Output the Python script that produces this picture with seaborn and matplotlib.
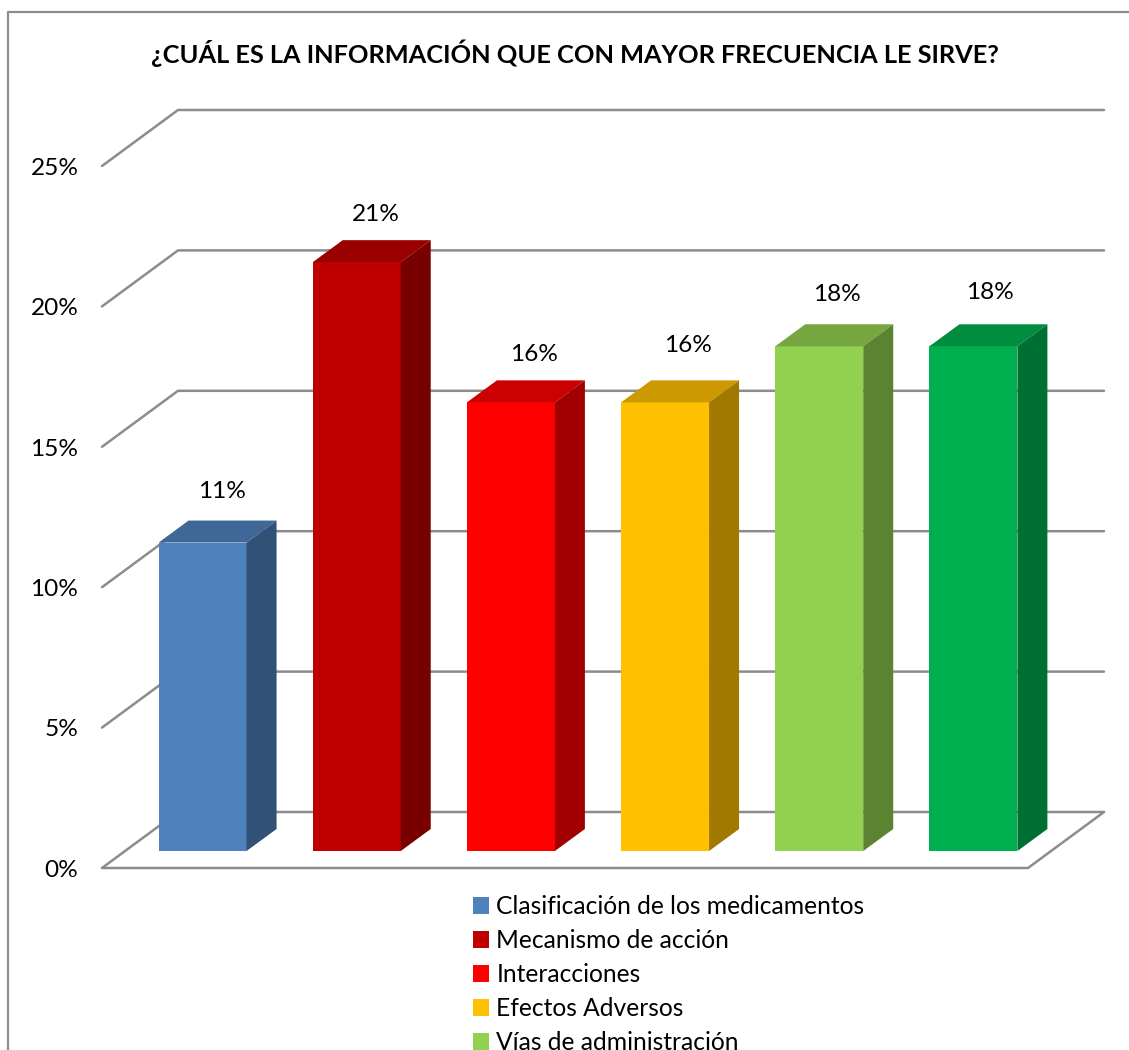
import matplotlib
matplotlib.use("Agg")
import matplotlib.pyplot as plt
from matplotlib.colors import to_rgb
from matplotlib.patches import Patch, Polygon
from matplotlib.lines import Line2D
from matplotlib.transforms import ScaledTranslation
import seaborn as sns

title = "¿CUÁL ES LA INFORMACIÓN QUE CON MAYOR FRECUENCIA LE SIRVE?"
bars = ["Clasificación de los medicamentos", "Mecanismo de acción", "Interacciones",
        "Efectos Adversos", "Vías de administración", "Sexta categoría"]
values = [11, 21, 16, 16, 18, 18]
colors = ["#4F81BD", "#C00000", "#FF0000", "#FFC000", "#92D050", "#00B050"]
yticks = [0, 5, 10, 15, 20, 25]
legend_labels = bars[:5]
# hand-placed label nudges of the source chart (px right, px above bar top)
nudge_x = [19, 19, 23, 23, 18, 17]
nudge_y = [51, 48, 48, 57, 52, 54]

W, H = 1129, 1050
sns.set_theme(style="white")
plt.rcParams["font.family"] = ["Lato", "DejaVu Sans"]
GRAY = "#8C8C8C"
FS = 17.6


def box(l, t, r, b):
    return [l / W, 1 - b / H, (r - l) / W, (b - t) / H]


fig = plt.figure(figsize=(W / 100, H / 100), dpi=100, facecolor="white")

# chart-area border (only left and top survive the crop)
fig.add_artist(Line2D([7.5 / W, 7.5 / W, 1], [0, 1 - 11.5 / H, 1 - 11.5 / H],
                      color=GRAY, lw=1.6, transform=fig.transFigure))

# wall plane: front edge scale, grid lines run back and along the wall
wall = fig.add_axes(box(102, 166, 1028, 868), zorder=1)
wall.set_xlim(0, 6)
wall.set_ylim(0, 25)
for s in wall.spines.values():
    s.set_visible(False)
wall.set_xticks([])
wall.set_yticks(yticks, [f"{t}%" for t in yticks], fontsize=FS, color="black")
wall.tick_params(axis="y", length=0, pad=17)
shift = ScaledTranslation(0, -1.6 / 72, fig.dpi_scale_trans)
for lbl in wall.get_yticklabels():
    lbl.set_verticalalignment("center")
    lbl.set_transform(lbl.get_transform() + shift)
dx = 76 / (926 / 6)
dy = 56 / (702 / 25)
for t in yticks:
    wall.plot([0, dx, 6 + dx], [t, t + dy, t + dy], color=GRAY, lw=1.8,
              clip_on=False, solid_joinstyle="miter")
wall.plot([0, 6, 6 + dx], [0, 0, dy], color=GRAY, lw=1.8, clip_on=False,
          solid_joinstyle="miter")

# bar plane
ax = fig.add_axes(box(125.5, 150, 1050.5, 851), zorder=2)
ax.patch.set_alpha(0)
sns.barplot(x=bars, y=values, hue=bars, palette=colors, saturation=1, width=88 / 154.2,
            legend=False, ax=ax, linewidth=0)
ax.set_xlim(-0.5, 5.5)
ax.set_ylim(0, 25)
ax.axis("off")

ddx = 30 / 154.2
ddy = 22 / 28.04
hw = 44 / 154.2
for i, (v, c) in enumerate(zip(values, colors)):
    rgb = to_rgb(c)
    top = tuple(k * 0.8 for k in rgb)
    side = tuple(k * 0.63 for k in rgb)
    l, r = i - hw, i + hw
    ax.add_patch(Polygon([(l, v), (r, v), (r + ddx, v + ddy), (l + ddx, v + ddy)],
                         closed=True, fc=top, ec="none", clip_on=False))
    ax.add_patch(Polygon([(r, 0), (r + ddx, ddy), (r + ddx, v + ddy), (r, v)],
                         closed=True, fc=side, ec="none", clip_on=False))
    ax.annotate(f"{v}%", (i, v), xytext=(nudge_x[i] * 0.72, nudge_y[i] * 0.72),
                textcoords="offset points", ha="center", va="center",
                fontsize=FS, color="black", annotation_clip=False)

fig.text(575 / W, 1 - 53.5 / H, title, ha="center", va="center", fontsize=18.27,
         fontweight="bold", color="black")

handles = [Patch(fc=c, ec="none") for c in colors[:5]]
fig.legend(handles, legend_labels, loc="upper left",
           bbox_to_anchor=(473 / W, 1 - 895 / H), frameon=False, fontsize=17.7,
           handlelength=0.65, handleheight=0.65, handletextpad=0.3,
           labelspacing=0.45, borderpad=0, borderaxespad=0, labelcolor="black")

fig.savefig("out.png", dpi=100)
